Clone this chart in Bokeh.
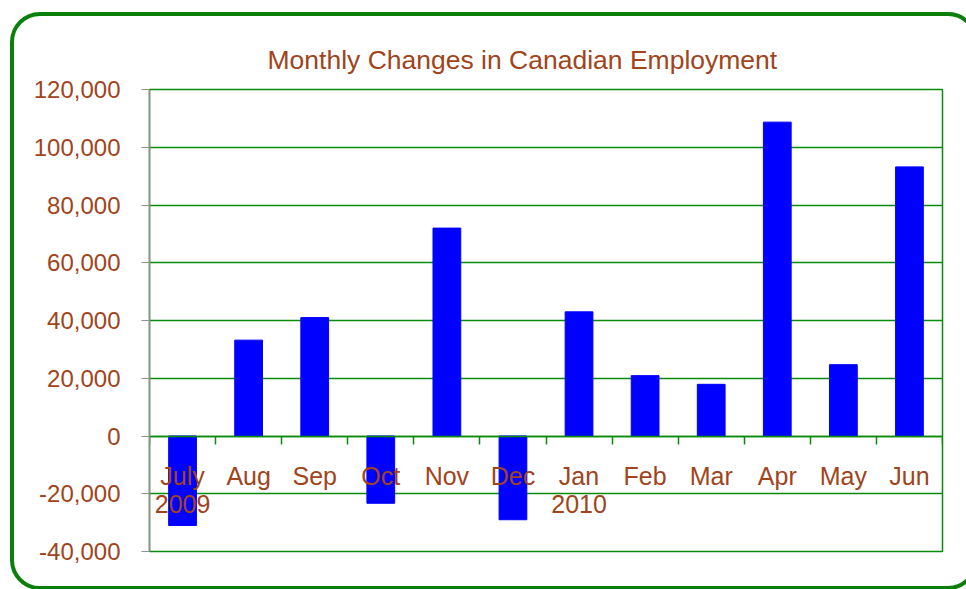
from bokeh.plotting import figure
from bokeh.models import Range1d, FixedTicker, NumeralTickFormatter, InlineStyleSheet, CustomLabelingPolicy
from bokeh.embed import file_html
from bokeh.resources import INLINE
from bokeh.core.properties import value

# ---- data ----
months = ["July\n2009", "Aug", "Sep", "Oct", "Nov", "Dec", "Jan\n2010", "Feb", "Mar", "Apr", "May", "Jun"]
changes = [-31000, 33200, 41000, -23300, 72000, -29000, 43000, 20900, 17900, 108700, 24700, 93200]
y_ticks = [-40000, -20000, 0, 20000, 40000, 60000, 80000, 100000, 120000]

BROWN = "#A0441C"
GREEN = "#0A8A0A"
FONT = "Liberation Sans"

n = len(months)
centers = [i + 0.5 for i in range(n)]
bounds = list(range(n + 1))

p = figure(width=966, height=589, output_backend="svg", toolbar_location=None,
           x_range=Range1d(0, n), y_range=Range1d(y_ticks[0], y_ticks[-1]),
           min_border_left=149, min_border_right=24, min_border_top=89, min_border_bottom=38)

p.title.text = "Monthly Changes in Canadian Employment"
p.title.text_font = FONT
p.title.text_font_size = "26.5px"
p.title.text_font_style = "normal"
p.title.text_color = BROWN
p.title.align = "left"
p.title.offset = 118
p.title.standoff = 29

p.background_fill_color = "white"
p.border_fill_color = "white"
p.outline_line_color = GREEN
p.outline_line_width = 1.5

# y axis
yax = p.yaxis[0]
yax.ticker = FixedTicker(ticks=y_ticks)
yax.formatter = NumeralTickFormatter(format="0,0")
yax.axis_line_color = "#909090"
yax.axis_line_width = 1.5
yax.major_tick_line_color = "#909090"
yax.major_tick_out = 8
yax.major_tick_in = 0
yax.minor_tick_line_color = None
yax.major_label_text_font = FONT
yax.major_label_text_font_size = "24px"
yax.major_label_text_color = BROWN
yax.major_label_standoff = 21

# x axis: fixed at zero line, ticks at category boundaries, no labels
xax = p.xaxis[0]
xax.fixed_location = 0
xax.ticker = FixedTicker(ticks=bounds)
xax.axis_line_color = GREEN
xax.axis_line_width = 1.5
xax.major_tick_line_color = GREEN
xax.major_tick_line_width = 1.5
xax.major_tick_out = 8
xax.major_tick_in = 0
xax.minor_tick_line_color = None
xax.major_label_standoff = 0
xax.major_label_policy = CustomLabelingPolicy(
    code="const a = [...indices]; for (const i of a) indices.unset(i); return indices")

p.xgrid.grid_line_color = None
p.ygrid.ticker = FixedTicker(ticks=y_ticks)
p.ygrid.grid_line_color = GREEN
p.ygrid.grid_line_width = 1.5

p.vbar(x=centers, top=changes, bottom=0, width=0.42, fill_color="#0000FF", line_color="#0000FF")

p.text(x=centers, y=[0] * n, text=months, text_align="center", text_baseline="top",
       y_offset=26, text_font=value(FONT), text_font_size="25px", text_color=BROWN,
       text_line_height=1.0)

p.stylesheets.append(InlineStyleSheet(css="""
:host { position: relative; overflow: hidden; }
:host::after { content: ""; position: absolute; left: 10px; top: 12px; width: 968px; height: 578px;
  border: 4px solid #0A7F0A; border-radius: 30px; box-sizing: border-box; pointer-events: none; }
"""))

open("out.html", "w").write(file_html(p, INLINE))
